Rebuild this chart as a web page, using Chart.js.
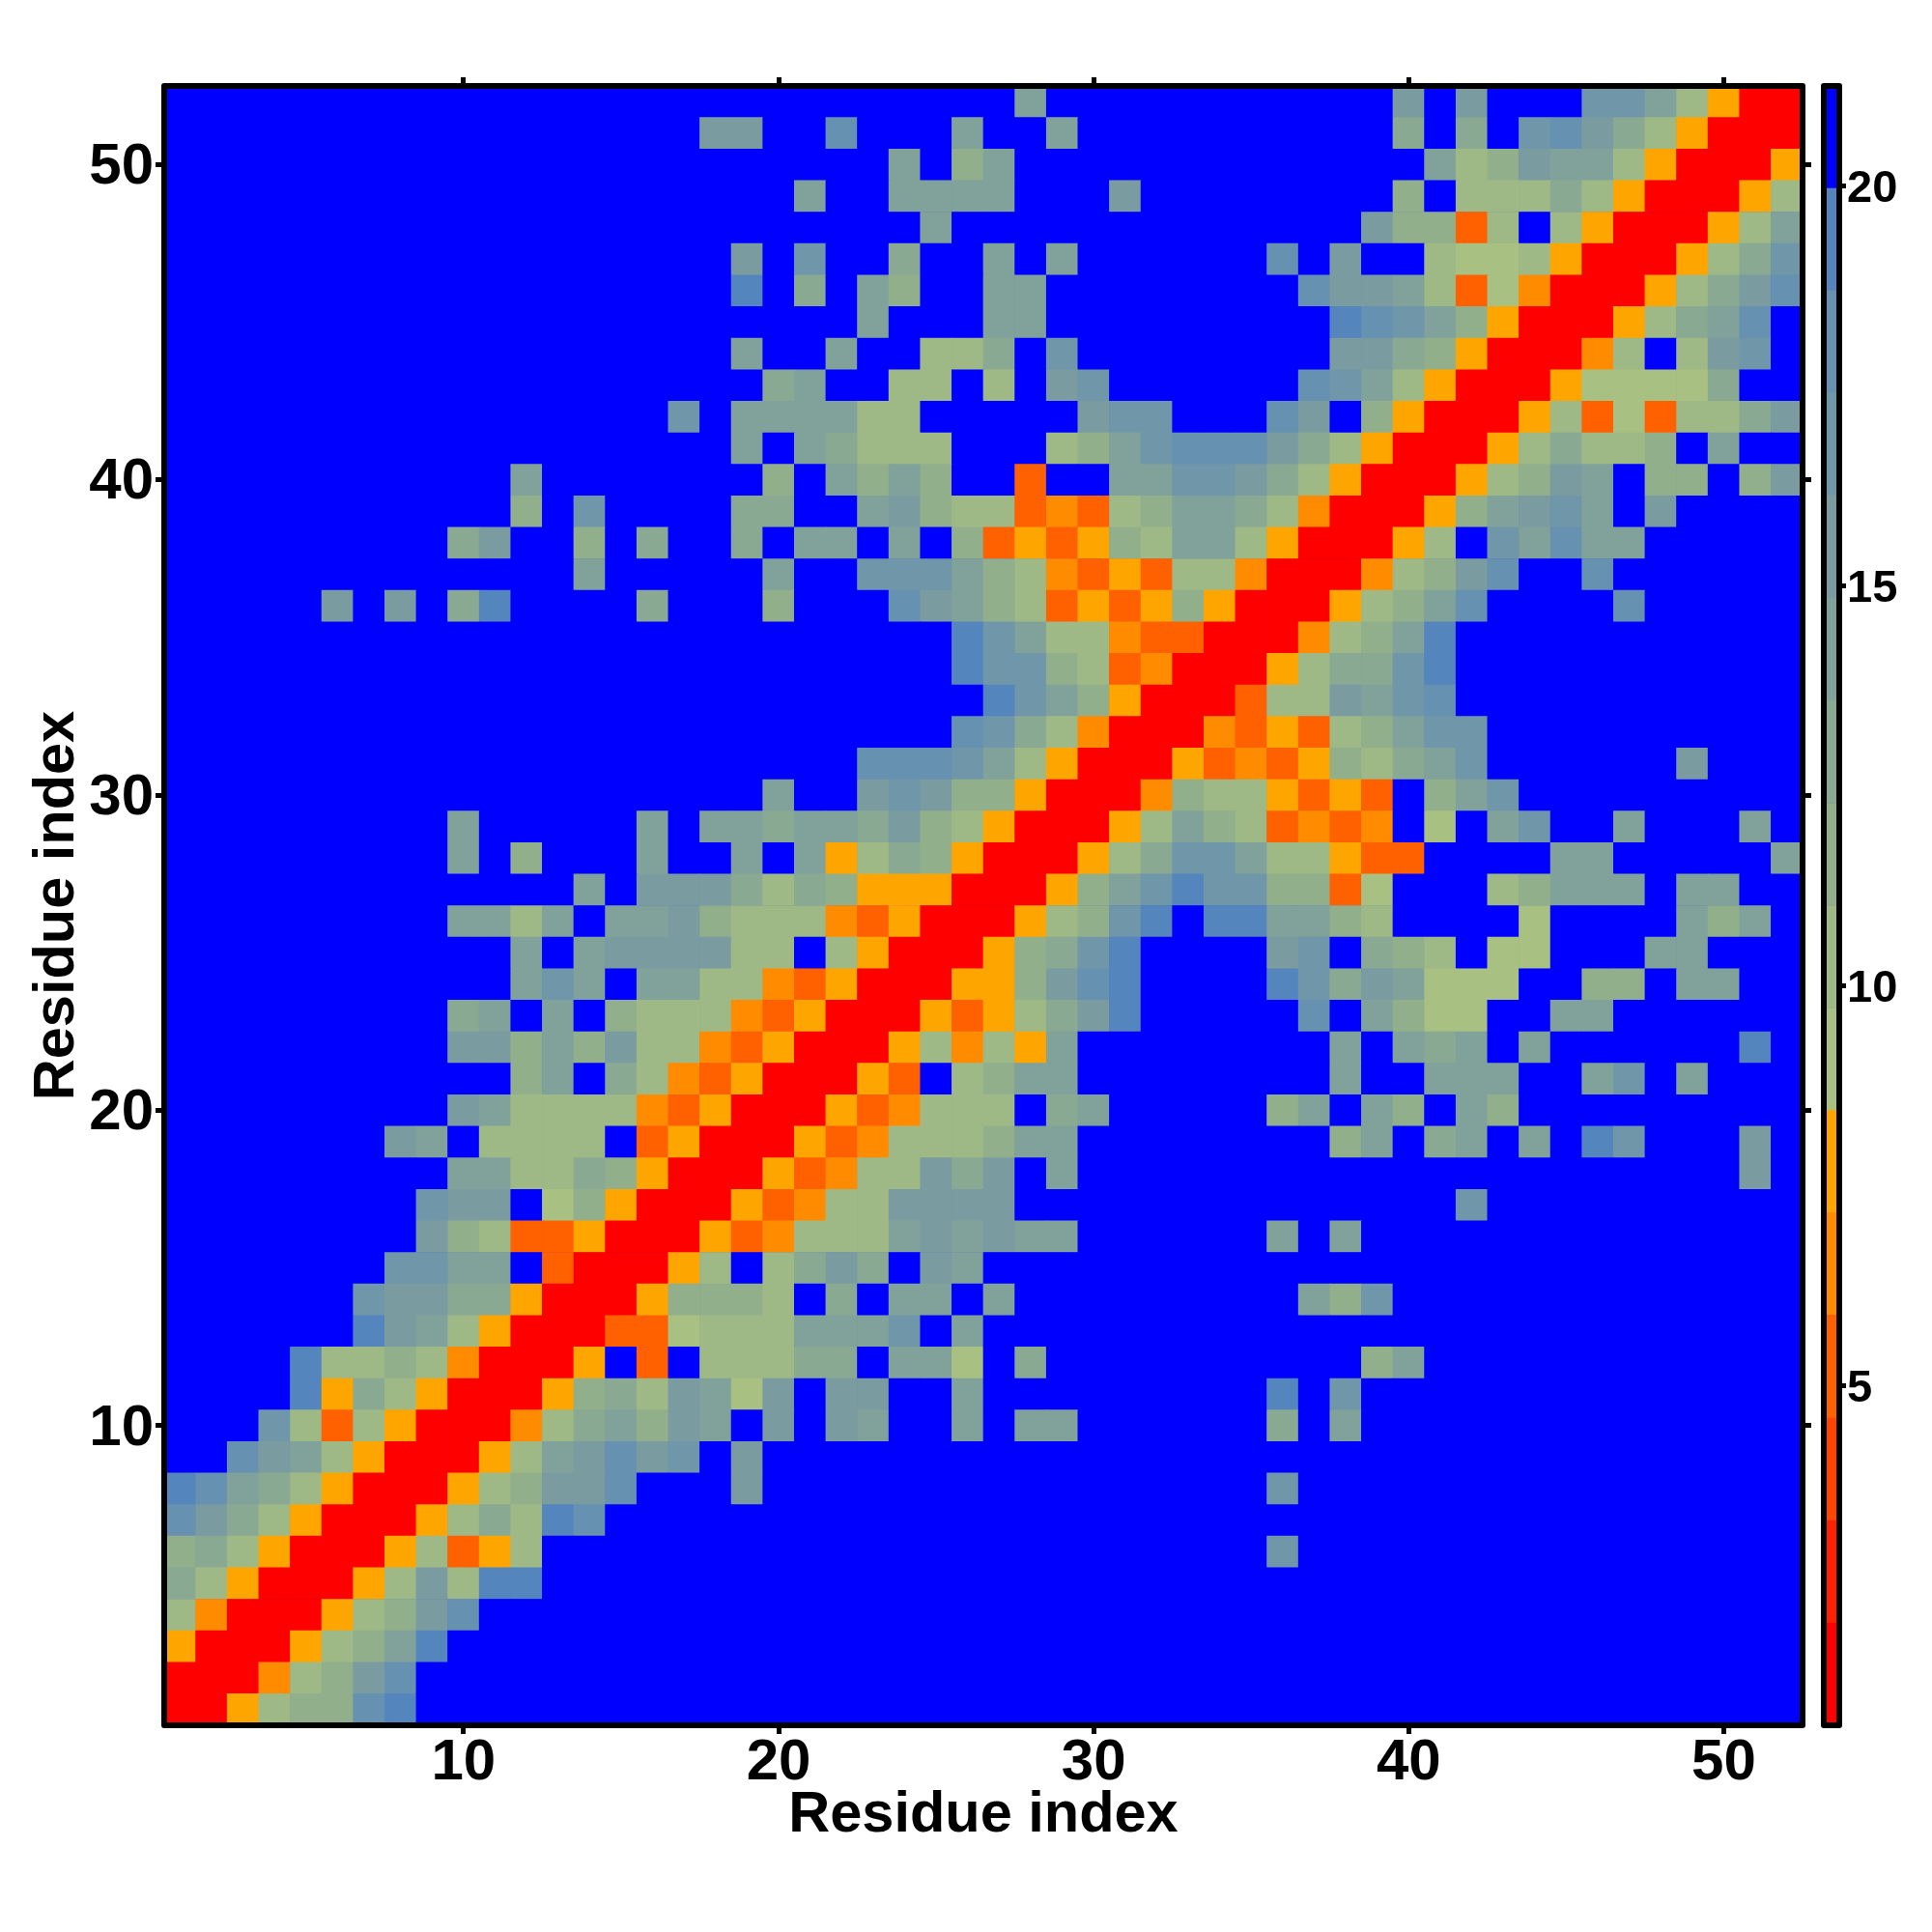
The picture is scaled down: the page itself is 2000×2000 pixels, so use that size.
<!DOCTYPE html>
<html>
<head>
<meta charset="utf-8">
<title>Residue distance map</title>
<script src="https://cdn.jsdelivr.net/npm/chart.js@4"></script>
<style>
  body { margin: 0; background: #fff; }
  #wrap { position: relative; width: 2000px; height: 2000px; }
  canvas { position: absolute; top: 0; }
</style>
</head>
<body>
<div id="wrap">
  <canvas id="map" width="2000" height="2000" style="left:0"></canvas>
  <canvas id="bar" width="120" height="2000" style="left:1880px"></canvas>
</div>
<script>
// residue numbers on both axes
var residues = [1,2,3,4,5,6,7,8,9,10,11,12,13,14,15,16,17,18,19,20,21,22,23,24,25,26,
  27,28,29,30,31,32,33,34,35,36,37,38,39,40,41,42,43,44,45,46,47,48,49,50,51,52];
var axisTicks = [10,20,30,40,50];
var barTicks = [5,10,15,20];
var axisTitle = 'Residue index';

// colour bands of the scale
var bandEdges = [0.75,2.03,3.31,4.59,5.88,7.16,8.44,9.72,11,12.28,13.56,14.84,16.13,17.41,18.69,19.97,21.25];
var bandColours = ['#ff0000','#ff2000','#ff4500','#ff6000','#ff8c00','#ffa500','#a8c082','#9fb986',
  '#92af8c','#89a993','#80a29b','#7a9ca1','#6f97a9','#6791b0','#5585bd','#0000ff'];

// distance read for each cell, keyed by column; cells not listed are past the cutoff
var farDistance = 21;
var row52 = {28:14,40:15,42:15,46:17,47:17,48:14,49:10,50:8,51:1,52:1};
var row51 = {18:15,19:15,22:18,26:14,29:14,40:13,42:13,44:17,45:18,46:15,47:13,48:10,49:8,50:1,51:1,52:1};
var row50 = {24:14,26:12,27:14,41:14,42:10,43:12,44:15,45:14,46:14,47:10,48:8,49:1,50:1,51:1,52:8};
var row49 = {21:14,24:14,25:14,26:14,27:14,31:15,40:12,42:10,43:10,44:10,45:13,46:10,47:8,48:1,49:1,50:1,51:8,52:10};
var row48 = {25:14,39:15,40:12,41:12,42:5,43:10,45:10,46:8,47:1,48:1,49:1,50:8,51:10,52:14};
var row47 = {19:15,21:17,24:13,27:14,29:14,36:18,38:15,41:10,42:9,43:9,44:10,45:8,46:1,47:1,48:1,49:8,50:10,51:13,52:17};
var row46 = {19:19,21:13,23:14,24:12,27:14,28:14,37:18,38:15,39:15,40:14,41:10,42:5,43:9,44:6,45:1,46:1,47:1,48:8,49:10,50:13,51:15,52:18};
var row45 = {23:14,27:14,28:14,38:19,39:18,40:17,41:14,42:12,43:8,44:1,45:1,46:1,47:8,48:10,49:13,50:14,51:18};
var row44 = {19:14,22:14,25:10,26:10,27:13,29:17,38:15,39:15,40:13,41:12,42:8,43:1,44:1,45:1,46:6,47:10,49:10,50:15,51:17};
var row43 = {20:13,21:14,24:10,25:10,27:10,29:15,30:17,37:18,38:17,39:14,40:10,41:8,42:1,43:1,44:1,45:8,46:9,47:9,48:9,49:9,50:13};
var row42 = {17:17,19:14,20:14,21:14,22:14,23:10,24:10,30:15,31:17,32:17,36:18,37:15,39:12,40:8,41:1,42:1,43:1,44:8,45:10,46:5,47:9,48:5,49:10,50:10,51:13,52:15};
var row41 = {19:14,21:14,22:13,23:10,24:10,25:10,29:10,30:12,31:14,32:17,33:18,34:18,35:18,36:15,37:13,38:10,39:8,40:1,41:1,42:1,43:8,44:10,45:13,46:10,47:10,48:12,50:14};
var row40 = {12:14,20:12,22:14,23:12,24:14,25:12,28:5,31:14,32:14,33:17,34:17,35:15,36:13,37:10,38:8,39:1,40:1,41:1,42:8,43:10,44:12,45:15,46:14,48:12,49:12,51:12,52:15};
var row39 = {12:12,14:17,19:13,20:13,23:14,24:15,25:12,26:10,27:10,28:5,29:6,30:5,31:10,32:12,33:14,34:14,35:13,36:10,37:6,38:1,39:1,40:1,41:8,42:12,43:14,44:15,45:17,46:14,48:15};
var row38 = {10:13,11:15,14:12,16:13,19:13,21:14,22:14,24:14,26:12,27:5,28:8,29:5,30:8,31:12,32:10,33:14,34:14,35:10,36:8,37:1,38:1,39:1,40:8,41:10,43:17,44:14,45:18,46:14,47:14};
var row37 = {14:14,20:14,23:17,24:17,25:17,26:14,27:12,28:10,29:6,30:5,31:8,32:5,33:10,34:10,35:6,36:1,37:1,38:1,39:6,40:10,41:12,42:15,43:18,46:18};
var row36 = {6:15,8:15,10:13,11:19,16:13,20:12,24:18,25:15,26:14,27:12,28:10,29:5,30:8,31:5,32:8,33:12,34:8,35:1,36:1,37:1,38:8,39:10,40:12,41:14,42:18,47:18};
var row35 = {26:19,27:17,28:14,29:10,30:10,31:6,32:5,33:5,34:1,35:1,36:1,37:6,38:10,39:12,40:14,41:19};
var row34 = {26:19,27:17,28:17,29:12,30:10,31:5,32:6,33:1,34:1,35:1,36:8,37:10,38:13,39:13,40:17,41:19};
var row33 = {27:19,28:17,29:14,30:12,31:8,32:1,33:1,34:1,35:5,36:10,37:10,38:15,39:14,40:17,41:18};
var row32 = {26:18,27:17,28:13,29:10,30:6,31:1,32:1,33:1,34:6,35:5,36:8,37:5,38:10,39:12,40:14,41:17,42:17};
var row31 = {23:18,24:18,25:18,26:17,27:14,28:10,29:8,30:1,31:1,32:1,33:8,34:5,35:6,36:5,37:8,38:12,39:10,40:13,41:14,42:17,49:15};
var row30 = {20:14,23:15,24:17,25:15,26:12,27:12,28:8,29:1,30:1,31:1,32:6,33:12,34:10,35:10,36:8,37:5,38:8,39:5,41:12,42:14,43:17};
var row29 = {10:14,16:14,18:14,19:14,20:13,21:14,22:14,23:13,24:15,25:12,26:10,27:8,28:1,29:1,30:1,31:8,32:10,33:14,34:12,35:10,36:5,37:6,38:5,39:6,41:9,43:14,44:17,47:14,51:14};
var row28 = {10:14,12:12,16:14,19:14,21:14,22:8,23:10,24:13,25:12,26:8,27:1,28:1,29:1,30:8,31:10,32:13,33:17,34:17,35:14,36:10,37:10,38:8,39:5,40:5,45:14,46:14,52:14};
var row27 = {14:14,16:15,17:15,18:15,19:13,20:10,21:13,22:12,23:8,24:8,25:8,26:1,27:1,28:1,29:8,30:12,31:14,32:17,33:19,34:17,35:17,36:12,37:12,38:5,39:9,43:10,44:12,45:14,46:14,47:14,49:14,50:14};
var row26 = {10:14,11:14,12:10,13:14,15:14,16:14,17:15,18:12,19:10,20:10,21:10,22:6,23:5,24:8,25:1,26:1,27:1,28:8,29:10,30:12,31:17,32:19,34:19,35:19,36:14,37:14,38:12,39:10,44:9,49:14,50:12,51:14};
var row25 = {12:14,14:14,15:15,16:15,17:15,18:15,19:10,20:10,22:10,23:8,24:1,25:1,26:1,27:8,28:12,29:13,30:17,31:19,36:15,37:17,39:13,40:12,41:10,43:9,44:9,48:14,49:14};
var row24 = {12:14,13:17,14:14,16:14,17:14,18:10,19:10,20:6,21:5,22:8,23:1,24:1,25:1,26:8,27:8,28:12,29:15,30:18,31:19,36:19,37:17,38:13,39:15,40:14,41:9,42:9,43:9,46:12,47:12,49:14,50:14};
var row23 = {10:13,11:14,13:14,15:12,16:10,17:10,18:10,19:6,20:5,21:8,22:1,23:1,24:1,25:8,26:5,27:8,28:10,29:13,30:15,31:19,37:18,39:14,40:12,41:9,42:9,45:14,46:14};
var row22 = {10:15,11:15,12:12,13:14,14:12,15:15,16:10,17:10,18:6,19:5,20:8,21:1,22:1,23:1,24:8,25:10,26:6,27:10,28:8,29:14,38:14,40:14,41:13,42:14,44:14,51:19};
var row21 = {12:12,13:14,15:13,16:10,17:6,18:5,19:8,20:1,21:1,22:1,23:8,24:5,26:10,27:12,28:14,29:14,38:14,41:14,42:14,43:14,46:14,47:17,49:14};
var row20 = {10:15,11:14,12:10,13:10,14:10,15:10,16:6,17:5,18:8,19:1,20:1,21:1,22:8,23:5,24:6,25:10,26:10,27:10,29:13,30:14,36:12,37:14,39:14,40:12,42:14,43:12};
var row19 = {8:15,9:14,11:10,12:10,13:10,14:10,16:5,17:8,18:1,19:1,20:1,21:8,22:5,23:6,24:10,25:10,26:10,27:12,28:14,29:14,38:12,39:14,41:13,42:14,44:14,46:19,47:17,51:15};
var row18 = {10:14,11:14,12:10,13:10,14:13,15:12,16:8,17:1,18:1,19:1,20:8,21:5,22:6,23:10,24:10,25:15,26:13,27:15,29:14,51:15};
var row17 = {9:17,10:15,11:15,13:9,14:12,15:8,16:1,17:1,18:1,19:8,20:5,21:6,22:10,23:10,24:15,25:15,26:15,27:15,42:17};
var row16 = {9:15,10:12,11:10,12:5,13:5,14:8,15:1,16:1,17:1,18:8,19:5,20:6,21:10,22:10,23:10,24:14,25:15,26:14,27:15,28:14,29:14,36:14,38:14};
var row15 = {8:17,9:17,10:14,11:14,13:5,14:1,15:1,16:1,17:8,18:10,20:10,21:13,22:15,23:13,25:15,26:14};
var row14 = {7:17,8:15,9:15,10:13,11:13,12:8,13:1,14:1,15:1,16:8,17:12,18:12,19:12,20:10,22:13,24:14,25:14,27:14,37:14,38:12,39:17};
var row13 = {7:19,8:15,9:14,10:10,11:8,12:1,13:1,14:1,15:5,16:5,17:9,18:10,19:10,20:10,21:14,22:14,23:14,24:17,26:14};
var row12 = {5:19,6:10,7:10,8:12,9:10,10:6,11:1,12:1,13:1,14:8,16:5,18:10,19:10,20:10,21:13,22:13,24:14,25:14,26:9,28:13,39:12,40:14};
var row11 = {5:19,6:8,7:13,8:10,9:8,10:1,11:1,12:1,13:8,14:12,15:13,16:10,17:15,18:14,19:9,20:15,22:15,23:15,26:14,36:19,38:17};
var row10 = {4:17,5:10,6:5,7:10,8:8,9:1,10:1,11:1,12:6,13:10,14:13,15:14,16:12,17:15,18:14,20:15,22:15,23:14,26:14,28:14,29:14,36:13,38:14};
var row9 = {3:18,4:15,5:14,6:10,7:8,8:1,9:1,10:1,11:8,12:10,13:14,14:15,15:18,16:15,17:17,19:15};
var row8 = {1:19,2:18,3:14,4:13,5:10,6:8,7:1,8:1,9:1,10:8,11:10,12:12,13:15,14:15,15:18,19:15,36:17};
var row7 = {1:18,2:15,3:13,4:10,5:8,6:1,7:1,8:1,9:8,10:10,11:13,12:10,13:19,14:18};
var row6 = {1:12,2:13,3:10,4:8,5:1,6:1,7:1,8:8,9:10,10:5,11:8,12:10,36:17};
var row5 = {1:13,2:10,3:8,4:1,5:1,6:1,7:8,8:10,9:15,10:10,11:19,12:19};
var row4 = {1:10,2:6,3:1,4:1,5:1,6:8,7:10,8:12,9:15,10:18};
var row3 = {1:8,2:1,3:1,4:1,5:8,6:10,7:12,8:14,9:19};
var row2 = {1:1,2:1,3:1,4:6,5:10,6:12,7:15,8:18};
var row1 = {1:1,2:1,3:8,4:10,5:12,6:12,7:18,8:19};

var rows = [row1,row2,row3,row4,row5,row6,row7,row8,row9,row10,row11,row12,row13,row14,row15,row16,
  row17,row18,row19,row20,row21,row22,row23,row24,row25,row26,row27,row28,row29,row30,row31,row32,row33,
  row34,row35,row36,row37,row38,row39,row40,row41,row42,row43,row44,row45,row46,row47,row48,row49,row50,row51,row52];

var labelFont = 'Liberation Sans, Arial, sans-serif';

function bandColour(v) {
    for (var i = 0; i < bandColours.length; i++) {
        if (v < bandEdges[i + 1]) return bandColours[i];
    }
    return bandColours[bandColours.length - 1];
}

// thick frame round the plot area, blue under the cells so no seams show
var framePlugin = {
    id: 'frame',
    beforeDatasetsDraw: function(chart) {
        var a = chart.chartArea, c = chart.ctx;
        c.save();
        c.fillStyle = bandColour(farDistance);
        c.fillRect(a.left, a.top, a.right - a.left, a.bottom - a.top);
        c.restore();
    },
    afterDatasetsDraw: function(chart) {
        var a = chart.chartArea, c = chart.ctx;
        c.save();
        c.strokeStyle = '#000';
        c.lineWidth = 6;
        c.lineJoin = 'round';
        c.strokeRect(a.left, a.top, a.right - a.left, a.bottom - a.top);
        c.restore();
    }
};

function tickAxis(position, size, labelled) {
    var horizontal = position === 'top' || position === 'bottom';
    return {
        type: 'linear',
        position: position,
        offset: false,
        min: 0.5,
        max: 52.5,
        afterBuildTicks: function(s) { s.ticks = axisTicks.map(function(v) { return {value: v}; }); },
        afterFit: function(s) { if (horizontal) s.height = size; else s.width = size; },
        border: {display: false},
        grid: {offset: false, drawOnChartArea: false, tickLength: 9, tickWidth: 5, tickColor: '#000'},
        ticks: {
            display: labelled,
            color: '#000',
            maxRotation: 0,
            padding: horizontal ? 0 : 2,
            labelOffset: horizontal ? 0 : 3,
            font: {family: labelFont, size: 60, weight: 'bold', lineHeight: 1}
        }
    };
}

var xAxis = tickAxis('bottom', 214, true);
xAxis.title = {display: true, text: axisTitle, color: '#000',
    font: {family: labelFont, size: 59.5, weight: 'bold', lineHeight: 1}, padding: {top: 0, bottom: 91}};
var yAxis = tickAxis('left', 170, true);
yAxis.title = {display: true, text: axisTitle, color: '#000',
    font: {family: labelFont, size: 59.5, weight: 'bold', lineHeight: 1}, padding: {top: 30, bottom: 0}};

var datasets = rows.map(function(row, r) {
    return {
        xAxisID: 'x',
        yAxisID: 'y',
        data: residues.map(function(c) {
            var v = row[c] === undefined ? farDistance : row[c];
            return {x: c, y: [residues[r] - 0.5, residues[r] + 0.5], v: v};
        }),
        backgroundColor: function(ctx) { return bandColour(ctx.raw.v); },
        barPercentage: 1,
        categoryPercentage: 1,
        borderWidth: 0
    };
});

new Chart(document.getElementById('map'), {
    type: 'bar',
    data: {datasets: datasets},
    options: {
        responsive: false,
        animation: false,
        devicePixelRatio: 1,
        events: [],
        layout: {padding: 0},
        plugins: {legend: {display: false}, tooltip: {enabled: false}},
        datasets: {bar: {grouped: false}},
        scales: {
            x: xAxis,
            y: yAxis,
            x2: tickAxis('top', 89, false),
            y2: tickAxis('right', 134, false)
        }
    },
    plugins: [framePlugin]
});

// colour bar on its own small chart
var bandLabels = ['distance'];
new Chart(document.getElementById('bar'), {
    type: 'bar',
    data: {
        labels: bandLabels,
        datasets: bandColours.map(function(col, i) {
            return {
                data: [[bandEdges[i], bandEdges[i + 1]]],
                backgroundColor: col,
                barPercentage: 1,
                categoryPercentage: 1,
                borderWidth: 0
            };
        })
    },
    options: {
        responsive: false,
        animation: false,
        devicePixelRatio: 1,
        events: [],
        layout: {padding: {left: 8, top: 89, bottom: 214}},
        plugins: {legend: {display: false}, tooltip: {enabled: false}},
        datasets: {bar: {grouped: false}},
        scales: {
            x: {display: false},
            y: {
                position: 'right',
                min: bandEdges[0],
                max: bandEdges[bandEdges.length - 1],
                afterBuildTicks: function(s) { s.ticks = barTicks.map(function(v) { return {value: v}; }); },
                afterFit: function(s) { s.width = 96; },
                border: {display: false},
                grid: {drawOnChartArea: false, tickLength: 7, tickWidth: 5, tickColor: '#000'},
                ticks: {
                    color: '#000',
                    padding: 1,
                    labelOffset: 4,
                    font: {family: labelFont, size: 47, weight: 'bold', lineHeight: 1}
                }
            }
        }
    },
    plugins: [framePlugin]
});
</script>
</body>
</html>
